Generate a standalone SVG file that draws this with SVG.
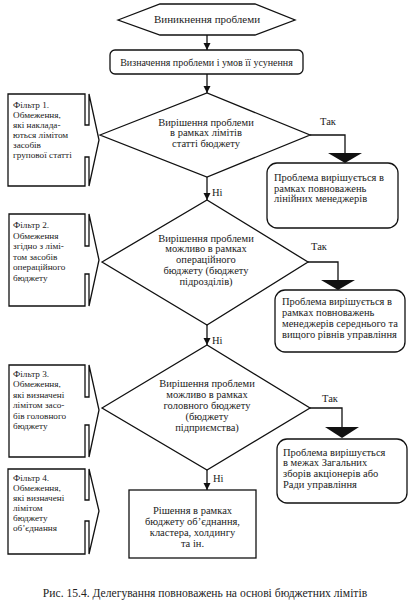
<svg xmlns="http://www.w3.org/2000/svg" width="416" height="609" viewBox="0 0 416 609">
<defs>
<marker id="ah" markerWidth="8" markerHeight="8" refX="7" refY="4" orient="auto" markerUnits="userSpaceOnUse">
<path d="M0,0.5 L7,4 L0,7.5 Z" fill="#111"/>
</marker>
<style>
.s{fill:#fff;stroke:#111;stroke-width:1.3}
.l{fill:none;stroke:#111;stroke-width:1.3}
.t{font-family:'Liberation Serif','Times New Roman',serif;fill:#222}
.c{text-anchor:middle;font-size:10.5px}
.f{font-size:9.2px}
.b{font-size:10.5px}
.big{fill:#111}
</style>
</defs>
<rect width="416" height="609" fill="#fff"/>

<g id="connectors">
<line class="l" x1="207" y1="35" x2="207" y2="50" marker-end="url(#ah)"/>
<line class="l" x1="207" y1="74" x2="207" y2="93" marker-end="url(#ah)"/>
<line class="l" x1="207" y1="177" x2="207" y2="200" marker-end="url(#ah)"/>
<line class="l" x1="207" y1="325" x2="207" y2="345" marker-end="url(#ah)"/>
<line class="l" x1="207" y1="470" x2="207" y2="490" marker-end="url(#ah)"/>
<polyline class="l" points="310,135 345,135 345,154"/>
<polygon class="big" points="328,153 362,153 345,163"/>
<polyline class="l" points="308,262 338,262 338,281"/>
<polygon class="big" points="321,280 355,280 338,290"/>
<polyline class="l" points="310,408 342,408 342,428"/>
<polygon class="big" points="325,427 359,427 342,438"/>
<text class="t b" x="320" y="125">Так</text>
<text class="t b" x="311" y="250">Так</text>
<text class="t b" x="322" y="402">Так</text>
<text class="t b" x="212" y="196">Ні</text>
<text class="t b" x="212" y="344">Ні</text>
<text class="t b" x="213" y="482">Ні</text>
</g>

<g id="start">
<polygon class="s" points="118,20 160,4 255,4 295,20 255,35 160,35"/>
<text class="t" x="207" y="23" text-anchor="middle" font-size="11">Виникнення проблеми</text>
</g>

<g id="define">
<rect class="s" x="110" y="50" width="193" height="24" rx="5"/>
<text class="t" x="206.5" y="65.5" text-anchor="middle" font-size="10">Визначення проблеми і умов її усунення</text>
</g>

<g id="decision1">
<polygon class="s" points="100,135 207,93 310,135 207,177"/>
<text class="t c" x="206" y="125.5">Вирішення проблеми</text>
<text class="t c" x="206" y="136">в рамках лімітів</text>
<text class="t c" x="206" y="146.5">статті бюджету</text>
</g>

<g id="decision2">
<polygon class="s" points="102,262 207,200 308,262 207,325"/>
<text class="t c" x="206" y="241.5">Вирішення проблеми</text>
<text class="t c" x="206" y="252">можливо в рамках</text>
<text class="t c" x="206" y="263">операційного</text>
<text class="t c" x="206" y="274">бюджету (бюджету</text>
<text class="t c" x="206" y="284.5">підрозділів)</text>
</g>

<g id="decision3">
<polygon class="s" points="102,408 207,345 310,408 207,470"/>
<text class="t c" x="207" y="386.5">Вирішення проблеми</text>
<text class="t c" x="207" y="397.5">можливо в рамках</text>
<text class="t c" x="207" y="409">головного бюджету</text>
<text class="t c" x="207" y="420">(бюджету</text>
<text class="t c" x="207" y="430.5">підприємства)</text>
</g>

<g id="final">
<rect class="s" x="129" y="490" width="127" height="68"/>
<text class="t c" x="192.5" y="513.5">Рішення в рамках</text>
<text class="t c" x="192.5" y="525">бюджету об’єднання,</text>
<text class="t c" x="192.5" y="536">кластера, холдингу</text>
<text class="t c" x="192.5" y="547">та ін.</text>
</g>

<g id="result1">
<rect class="s" x="267" y="163" width="131" height="65" rx="10"/>
<text class="t b" x="274" y="181">Проблема вирішується в</text>
<text class="t b" x="274" y="191.5">рамках повноважень</text>
<text class="t b" x="274" y="202">лінійних менеджерів</text>
</g>

<g id="result2">
<rect class="s" x="275" y="290" width="130" height="62" rx="10"/>
<text class="t b" x="282" y="305">Проблема вирішується в</text>
<text class="t b" x="282" y="316">рамках повноважень</text>
<text class="t b" x="282" y="327">менеджерів середнього та</text>
<text class="t b" x="282" y="338">вищого рівнів управління</text>
</g>

<g id="result3">
<rect class="s" x="277" y="439" width="130" height="64" rx="10"/>
<text class="t b" x="283" y="455.5">Проблема вирішується</text>
<text class="t b" x="283" y="466">в межах Загальних</text>
<text class="t b" x="283" y="477">зборів акціонерів або</text>
<text class="t b" x="283" y="488">Ради управління</text>
</g>

<g id="filter1">
<path class="s" d="M8,94 H85 V125 H89 V94 L99,140 L89,186 V157 H85 V186 H8 Z"/>
<text class="t f" x="13" y="108">Фільтр 1.</text>
<text class="t f" x="13" y="118">Обмеження,</text>
<text class="t f" x="13" y="128">які наклада-</text>
<text class="t f" x="13" y="138">ються лімітом</text>
<text class="t f" x="13" y="148">засобів</text>
<text class="t f" x="13" y="158">групової статті</text>
</g>

<g id="filter2">
<path class="s" d="M9,214 H85 V246 H89 V214 L99,260 L89,306 V274 H85 V306 H9 Z"/>
<text class="t f" x="13" y="228">Фільтр 2.</text>
<text class="t f" x="13" y="238.5">Обмеження</text>
<text class="t f" x="13" y="249">згідно з лімі-</text>
<text class="t f" x="13" y="259.5">том засобів</text>
<text class="t f" x="13" y="270">операційного</text>
<text class="t f" x="13" y="280.5">бюджету</text>
</g>

<g id="filter3">
<path class="s" d="M9,365 H85 V397 H89 V365 L99,410 L89,457 V425 H85 V457 H9 Z"/>
<text class="t f" x="13" y="376.5">Фільтр 3.</text>
<text class="t f" x="13" y="387">Обмеження,</text>
<text class="t f" x="13" y="397.5">які визначені</text>
<text class="t f" x="13" y="408">лімітом засо-</text>
<text class="t f" x="13" y="418.5">бів головного</text>
<text class="t f" x="13" y="429">бюджету</text>
</g>

<g id="filter4">
<path class="s" d="M8,469 H85 V500 H89 V469 L99,511 L89,554 V521 H85 V554 H8 Z"/>
<text class="t f" x="13" y="481">Фільтр 4.</text>
<text class="t f" x="13" y="491">Обмеження,</text>
<text class="t f" x="13" y="501">які визначені</text>
<text class="t f" x="13" y="511">лімітом</text>
<text class="t f" x="13" y="521">бюджету</text>
<text class="t f" x="13" y="531">об’єднання</text>
</g>

<text class="t" x="205" y="597" text-anchor="middle" font-size="11.6">Рис. 15.4. Делегування повноважень на основі бюджетних лімітів</text>
</svg>
